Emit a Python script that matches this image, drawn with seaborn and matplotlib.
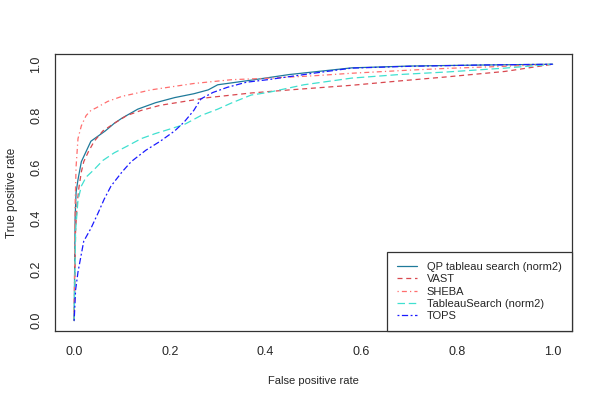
import numpy as np
import pandas as pd
import matplotlib
matplotlib.use("Agg")
import matplotlib.pyplot as plt
import seaborn as sns

# ROC curves
qp_fpr = [0, 0.002, 0.004, 0.008, 0.015, 0.025, 0.035, 0.05, 0.065, 0.084, 0.1, 0.133,
          0.17, 0.21, 0.25, 0.28, 0.30, 0.37, 0.45, 0.58, 0.7, 0.85, 1.0]
qp_tpr = [0, 0.40, 0.50, 0.55, 0.62, 0.66, 0.70, 0.72, 0.74, 0.77, 0.79, 0.825,
          0.85, 0.87, 0.885, 0.90, 0.92, 0.938, 0.96, 0.986, 0.993, 0.997, 1.0]

vast_fpr = [0, 0.003, 0.006, 0.01, 0.015, 0.02, 0.03, 0.042, 0.06, 0.084, 0.11, 0.14,
            0.18, 0.23, 0.28, 0.33, 0.37, 0.45, 0.58, 0.68, 0.78, 0.9, 1.0]
vast_tpr = [0, 0.35, 0.45, 0.52, 0.58, 0.62, 0.66, 0.70, 0.74, 0.77, 0.80, 0.82,
            0.84, 0.855, 0.87, 0.88, 0.888, 0.90, 0.918, 0.935, 0.951, 0.972, 1.0]

sheba_fpr = [0, 0.002, 0.004, 0.008, 0.015, 0.025, 0.035, 0.046, 0.07, 0.1, 0.125, 0.16,
             0.196, 0.25, 0.33, 0.4, 0.5, 0.58, 0.7, 0.78, 0.9, 1.0]
sheba_tpr = [0, 0.45, 0.60, 0.71, 0.76, 0.80, 0.82, 0.83, 0.855, 0.875, 0.885, 0.90,
             0.91, 0.925, 0.94, 0.945, 0.955, 0.965, 0.977, 0.984, 0.992, 1.0]

tab_fpr = [0, 0.003, 0.008, 0.015, 0.025, 0.042, 0.06, 0.084, 0.11, 0.14, 0.17, 0.196,
           0.23, 0.265, 0.30, 0.33, 0.37, 0.405, 0.48, 0.58, 0.68, 0.78, 0.9, 1.0]
tab_tpr = [0, 0.35, 0.47, 0.525, 0.56, 0.59, 0.625, 0.655, 0.68, 0.71, 0.73, 0.745,
           0.765, 0.80, 0.825, 0.85, 0.88, 0.89, 0.92, 0.946, 0.96, 0.97, 0.985, 1.0]

tops_fpr = [0, 0.003, 0.008, 0.014, 0.02, 0.035, 0.05, 0.063, 0.077, 0.1, 0.119, 0.15,
            0.18, 0.21, 0.23, 0.25, 0.265, 0.29, 0.32, 0.36, 0.405, 0.5, 0.58, 0.7, 0.85, 1.0]
tops_tpr = [0, 0.12, 0.19, 0.25, 0.31, 0.36, 0.42, 0.475, 0.525, 0.58, 0.62, 0.665,
            0.70, 0.74, 0.775, 0.82, 0.865, 0.89, 0.91, 0.93, 0.94, 0.965, 0.985, 0.992, 0.997, 1.0]

names = ["QP tableau search (norm2)", "VAST", "SHEBA", "TableauSearch (norm2)", "TOPS"]
colors = ["#1f7a9a", "#d9484f", "#ff6e6e", "#40e0d0", "#1a1aff"]
dashes = [(None, None), (4, 3), (1, 2.5, 4, 2.5), (6, 3), (1.5, 2, 5, 2)]

sns.set_style("white")
plt.rcParams['font.family'] = ['Liberation Sans', 'DejaVu Sans']

fig = plt.figure(figsize=(6, 4), dpi=100)
ax = fig.add_axes([0.0917, 0.1725, 0.8613, 0.6925])

curves = [(qp_fpr, qp_tpr), (vast_fpr, vast_tpr), (sheba_fpr, sheba_tpr),
          (tab_fpr, tab_tpr), (tops_fpr, tops_tpr)]
for (fx, ty), name, col, d in zip(curves, names, colors, dashes):
    df = pd.DataFrame({"fpr": fx, "tpr": ty})
    sns.lineplot(data=df, x="fpr", y="tpr", sort=False, estimator=None,
                 color=col, lw=0.9, label=name, ax=ax)
    if d[0] is not None:
        ax.lines[-1].set_dashes(d)

ax.set_xlim(-0.04, 1.04)
ax.set_ylim(-0.04, 1.04)
ticks = [0.0, 0.2, 0.4, 0.6, 0.8, 1.0]
ax.set_xticks(ticks)
ax.set_yticks(ticks)
ax.set_xticklabels([f"{t:.1f}" for t in ticks], fontsize=9)
ax.set_yticklabels([f"{t:.1f}" for t in ticks], fontsize=9, rotation=90, va="center")
ax.tick_params(direction="out", length=5, width=0.8, color="#555555")
ax.tick_params(axis="x", pad=6)
ax.tick_params(axis="y", pad=4)
for s in ax.spines.values():
    s.set_color("#333333")
    s.set_linewidth(0.9)
ax.set_xlabel("False positive rate", fontsize=8, labelpad=13)
ax.set_ylabel("True positive rate", fontsize=8.5, labelpad=9)

leg = ax.legend(loc="lower right", borderaxespad=0, fancybox=False, framealpha=1,
                edgecolor="#333333", fontsize=8, handlelength=1.8, labelspacing=0.2,
                borderpad=0.9, handletextpad=0.9)
leg.get_frame().set_linewidth(0.9)

fig.savefig("out.png", dpi=100)
